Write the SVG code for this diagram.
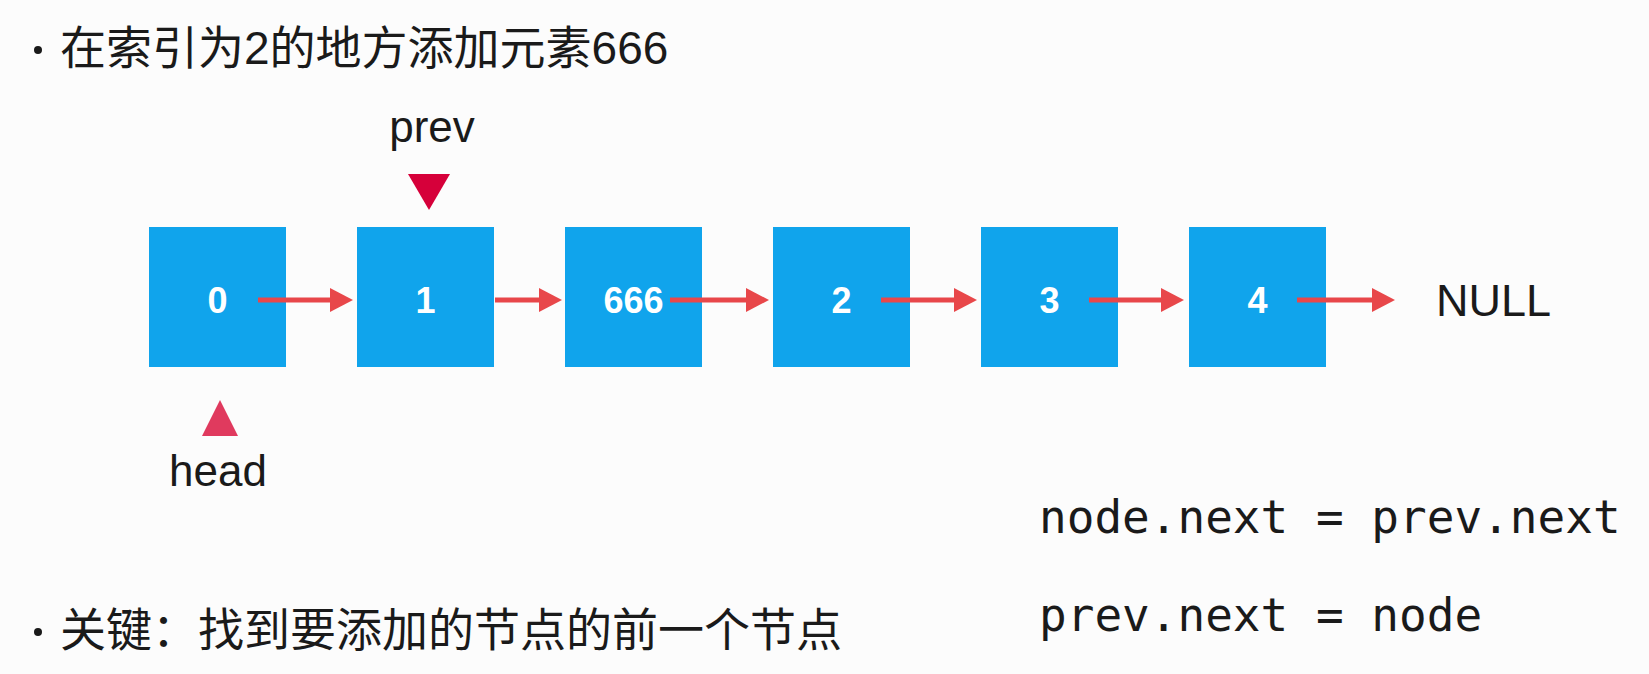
<svg xmlns="http://www.w3.org/2000/svg" width="1649" height="674" viewBox="0 0 1649 674">
<style>
.bg{fill:#fcfcfc}
.box{fill:#10a4ec}
.lbl{fill:#ffffff;font-family:"Liberation Sans",Arial,sans-serif;font-weight:bold;font-size:36px;text-anchor:middle}
.txt{fill:#1a1a1a;font-family:"Liberation Sans",Arial,sans-serif;font-size:44px}
.cjk{fill:#1a1a1a;font-family:"Liberation Sans","Noto Sans CJK SC",sans-serif;font-size:46px}
.code{fill:#1a1a1a;font-family:"DejaVu Sans Mono",monospace;font-size:46px}
.arr{stroke:#e8474a;stroke-width:5;fill:none;marker-end:url(#ah)}
</style>
<defs>
<marker id="ah" markerUnits="userSpaceOnUse" markerWidth="23" markerHeight="24" refX="11" refY="12" orient="auto">
<path d="M0,0 L23,12 L0,24 z" fill="#e8474a"/>
</marker>
</defs>
<rect class="bg" x="0" y="0" width="1649" height="674"/>
<g id="title">
<circle cx="38" cy="50" r="4" fill="#1a1a1a"/>
<text class="cjk" x="60" y="64">在索引为2的地方添加元素666</text>
</g>
<g id="node0"><rect class="box" x="149" y="227" width="137" height="140"/><text class="lbl" x="217.5" y="313">0</text></g>
<g id="node1"><rect class="box" x="357" y="227" width="137" height="140"/><text class="lbl" x="425.5" y="313">1</text></g>
<g id="node666"><rect class="box" x="565" y="227" width="137" height="140"/><text class="lbl" x="633.5" y="313">666</text></g>
<g id="node2"><rect class="box" x="773" y="227" width="137" height="140"/><text class="lbl" x="841.5" y="313">2</text></g>
<g id="node3"><rect class="box" x="981" y="227" width="137" height="140"/><text class="lbl" x="1049.5" y="313">3</text></g>
<g id="node4"><rect class="box" x="1189" y="227" width="137" height="140"/><text class="lbl" x="1257.5" y="313">4</text></g>
<g id="null"><text class="txt" x="1436" y="316" font-size="47" textLength="115" lengthAdjust="spacingAndGlyphs">NULL</text></g>
<g id="prev">
<text class="txt" x="432" y="142" text-anchor="middle">prev</text>
<polygon points="408,174 450,174 429,210" fill="#d6003a"/>
</g>
<g id="head">
<polygon points="220,400 238,436 202,436" fill="#e03a5e"/>
<text class="txt" x="218" y="486" text-anchor="middle">head</text>
</g>
<g id="connectors">
<line class="arr" x1="258" y1="300" x2="341" y2="300"/>
<line class="arr" x1="495" y1="300" x2="550" y2="300"/>
<line class="arr" x1="670" y1="300" x2="757" y2="300"/>
<line class="arr" x1="881" y1="300" x2="965" y2="300"/>
<line class="arr" x1="1089" y1="300" x2="1172" y2="300"/>
<line class="arr" x1="1297" y1="300" x2="1383" y2="300"/>
</g>
<g id="code">
<text class="code" x="1039" y="533">node.next = prev.next</text>
<text class="code" x="1039" y="631">prev.next = node</text>
</g>
<g id="key">
<circle cx="38" cy="632" r="4" fill="#1a1a1a"/>
<text class="cjk" x="60" y="646">关键：找到要添加的节点的前一个节点</text>
</g>
</svg>
